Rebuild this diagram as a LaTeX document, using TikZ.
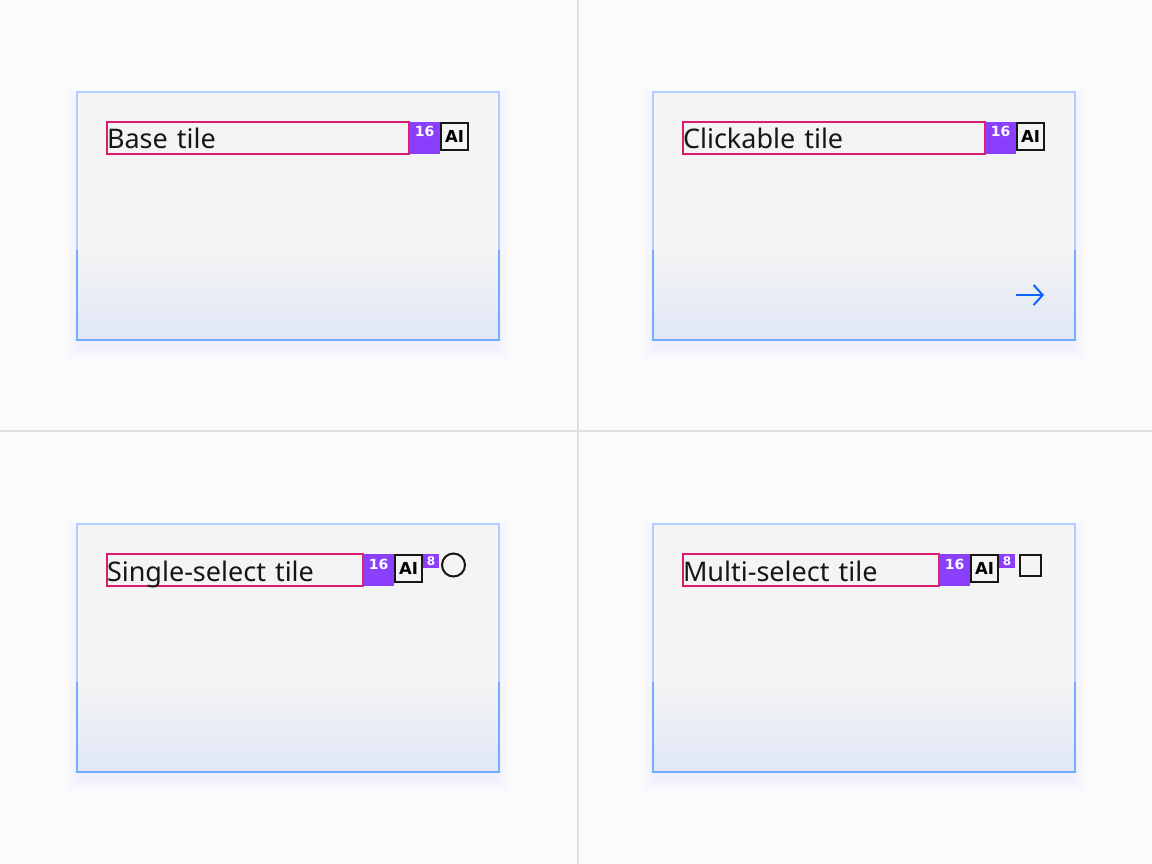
\documentclass[tikz,border=0pt]{standalone}
\usepackage{fontspec}
\setmainfont{Noto Sans}
\newfontfamily\badgefont{DejaVu Sans}
\usetikzlibrary{positioning,arrows.meta}

\definecolor{pagebg}{RGB}{252,252,252}
\definecolor{divider}{RGB}{224,224,224}
\definecolor{tilegray}{RGB}{244,244,244}
\definecolor{tileblue}{RGB}{224,230,246}
\definecolor{edgelight}{RGB}{178,206,255}
\definecolor{edgedark}{RGB}{120,169,255}
\definecolor{shadowblue}{RGB}{160,190,255}
\definecolor{titlepink}{RGB}{214,30,110}
\definecolor{badgepurple}{RGB}{138,63,252}
\definecolor{ink}{RGB}{22,22,22}
\definecolor{linkblue}{RGB}{15,98,254}

\tikzset{
  tile/.style={fill=tilegray, minimum width=422pt, minimum height=248pt, inner sep=0pt, outer sep=0pt},
  titlebox/.style={draw=titlepink, line width=1.5pt, inner sep=0pt, outer sep=0pt,
    minimum height=32pt, text height=22pt, text depth=0pt, align=left, anchor=north west,
    text=ink, font=\fontsize{27}{30}\selectfont},
  badge/.style={fill=badgepurple, inner sep=0pt, outer sep=0pt, minimum width=31pt, minimum height=32pt,
    text height=11pt, text depth=13pt, text=white, font=\badgefont\bfseries\fontsize{14}{15}\selectfont, anchor=north west},
  aibox/.style={draw=ink, line width=2pt, fill=tilegray, inner sep=0pt, outer sep=0pt,
    minimum width=27pt, minimum height=27pt, font=\badgefont\bfseries\fontsize{16.5}{18}\selectfont, anchor=north west},
  smallbadge/.style={fill=badgepurple, inner sep=0pt, outer sep=0pt, minimum width=16pt, minimum height=14pt,
    text=white, font=\badgefont\bfseries\fontsize{12}{13}\selectfont, anchor=north west},
  control/.style={draw=ink, line width=2pt, inner sep=0pt, outer sep=0pt, minimum size=21pt}
}

\begin{document}
\begin{tikzpicture}[x=1pt,y=-1pt]
\useasboundingbox[fill=pagebg] (0,0) rectangle (1152,864);
\draw[divider, line width=1.5pt] (578,0) -- (578,864);
\draw[divider, line width=1.5pt] (0,431) -- (1152,431);

% tile frames
\foreach \nm/\cx/\cy in {tbase/288/216, tclick/864/216, tsingle/288/648, tmulti/864/648}{
  \foreach \d in {1,3,...,11}
    \fill[shadowblue, opacity=0.018] (\cx-211-\d,\cy-124-\d+8) rectangle (\cx+211+\d,\cy+124+\d+8);
  \node[tile] (\nm) at (\cx,\cy) {};
  \shade[top color=tilegray, bottom color=tileblue] ([yshift=90pt]\nm.south west) rectangle (\nm.south east);
  \draw[edgelight, line width=1.5pt] (\nm.south west) rectangle (\nm.north east);
  \draw[edgedark, line width=1.5pt] ([yshift=90pt]\nm.south west) -- (\nm.south west)
    -- (\nm.south east) -- ([yshift=90pt]\nm.south east);
}

% base tile
\node[titlebox, text width=302pt] (basetitle) at ([xshift=30pt,yshift=-30pt]tbase.north west) {Base tile};
\node[badge] (basesixteen) at (basetitle.north east) {16};
\node[aibox] (baseai) at ([xshift=1pt,yshift=-1pt]basesixteen.north east) {AI};

% clickable tile
\node[titlebox, text width=302pt] (clicktitle) at ([xshift=30pt,yshift=-30pt]tclick.north west) {Clickable tile};
\node[badge] (clicksixteen) at (clicktitle.north east) {16};
\node[aibox] (clickai) at ([xshift=1pt,yshift=-1pt]clicksixteen.north east) {AI};
\coordinate (arrowtail) at ([xshift=-59pt,yshift=45pt]tclick.south east);
\coordinate (arrowhead) at ([xshift=-31pt,yshift=45pt]tclick.south east);
\draw[linkblue, line width=2pt, -{Straight Barb[length=9pt,width=20pt,line width=2pt]}] (arrowtail) -- (arrowhead);

% single-select tile
\node[titlebox, text width=256pt] (singletitle) at ([xshift=30pt,yshift=-30pt]tsingle.north west) {Single-select tile};
\node[badge] (singlesixteen) at (singletitle.north east) {16};
\node[aibox] (singleai) at ([xshift=1pt,yshift=-1pt]singlesixteen.north east) {AI};
\node[smallbadge] (singleeight) at ([xshift=1pt,yshift=1pt]singleai.north east) {8};
\node[control, circle, minimum size=23pt, anchor=west] (radio) at ([xshift=3pt,yshift=-4pt]singleeight.east) {};

% multi-select tile
\node[titlebox, text width=256pt] (multititle) at ([xshift=30pt,yshift=-30pt]tmulti.north west) {Multi-select tile};
\node[badge] (multisixteen) at (multititle.north east) {16};
\node[aibox] (multiai) at ([xshift=1pt,yshift=-1pt]multisixteen.north east) {AI};
\node[smallbadge] (multieight) at ([xshift=1pt,yshift=1pt]multiai.north east) {8};
\node[control, anchor=north west] (checkbox) at ([xshift=5pt,yshift=-1pt]multieight.north east) {};
\end{tikzpicture}
\end{document}
